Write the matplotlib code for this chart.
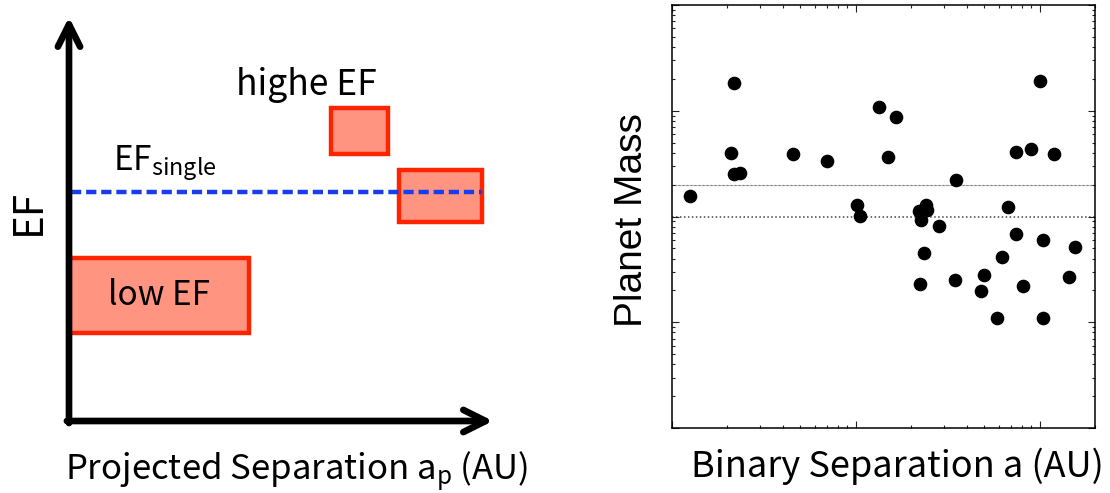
import matplotlib
matplotlib.use("Agg")
import matplotlib.pyplot as plt
from matplotlib.patches import Rectangle
from matplotlib.ticker import LogLocator, NullFormatter

plt.rcParams['font.family'] = ['Noto Sans CJK JP', 'DejaVu Sans']
plt.rcParams['mathtext.fontset'] = 'custom'
plt.rcParams['mathtext.rm'] = 'Noto Sans CJK JP'
plt.rcParams['mathtext.it'] = 'Noto Sans CJK JP'

# schematic (left): boxes in arbitrary units, separation 0-10, EF 0-10
box_names = ['low EF', 'highe EF', 'wide']
box_x0 = [0.0, 6.18, 7.78]
box_x1 = [4.25, 7.52, 9.74]
box_y0 = [2.18, 6.61, 4.93]
box_y1 = [4.03, 7.75, 6.21]
ef_single = 5.67

# binary separation (AU) vs planet mass
sep = [12.5, 21.7, 20.9, 21.7, 23.4, 45.5, 69.3, 100.9, 105, 134.5,
       166.4, 150.5, 220.8, 240.1, 244.1, 227.5, 283.6, 234.2, 223.6, 349.6,
       346.5, 498, 477.9, 589, 627, 676, 740.6, 740.6, 811.5, 893,
       1009, 1038, 1038, 1196, 1443, 1555]
mass = [1.57, 18.3, 3.96, 2.54, 2.56, 3.87, 3.33, 1.28, 1.02, 10.9,
        8.67, 3.68, 1.13, 1.28, 1.14, 0.927, 0.813, 0.449, 0.229, 2.23,
        0.249, 0.278, 0.199, 0.109, 0.417, 1.24, 0.683, 4.07, 0.219, 4.35,
        19.2, 0.604, 0.109, 3.90, 0.268, 0.515]
mass_lines = [2.0, 1.0]

W, H = 1110, 493
fig = plt.figure(figsize=(W / 100, H / 100), dpi=100)

# ---- left: schematic
ax1 = fig.add_axes([69 / W, (H - 421) / H, 424 / W, 404 / H])
ax1.set_xlim(0, 10)
ax1.set_ylim(0, 10)
ax1.axis('off')

for x0, x1, y0, y1 in zip(box_x0, box_x1, box_y0, box_y1):
    ax1.add_patch(Rectangle((x0, y0), x1 - x0, y1 - y0, facecolor='#ff9480',
                            edgecolor='#ff2400', linewidth=3.2, zorder=2))

ax1.plot([0.05, box_x1[2]], [ef_single, ef_single], color='#1a3cf0', lw=3.2,
         dashes=(2.3, 1.1), zorder=3)

arrow = dict(arrowstyle='->', lw=4.8, color='black', shrinkA=0, shrinkB=0,
             mutation_scale=40, capstyle='round', joinstyle='round')
ax1.annotate('', xy=(0, 10), xytext=(0, -0.05), arrowprops=arrow)
ax1.annotate('', xy=(10, 0), xytext=(-0.05, 0), arrowprops=arrow)

ax1.text((box_x0[0] + box_x1[0]) / 2, (box_y0[0] + box_y1[0]) / 2, 'low EF',
         fontsize=24, ha='center', va='center')
ax1.text(5.6, 8.07, 'highe EF', fontsize=25.5, ha='center', va='baseline')
ax1.text(1.04, 6.2, r'EF$_{\mathrm{single}}$', fontsize=24, ha='left',
         va='baseline')

fig.text(28 / W, (H - 212) / H, 'EF', fontsize=29, rotation=90,
         ha='center', va='center')
fig.text(297 / W, (H - 480) / H, r'Projected Separation a$_{\mathrm{p}}$ (AU)',
         fontsize=25, ha='center', va='baseline')

# ---- right: scatter
ax2 = fig.add_axes([672 / W, (H - 428) / H, 423 / W, 423 / H])
ax2.set_xscale('log')
ax2.set_yscale('log')
ax2.set_xlim(10, 2000)
ax2.set_ylim(0.01, 100)
for m, ls, lw in zip(mass_lines, [(0, (0.6, 0.6)), (0, (1, 1.6))], [0.8, 1.1]):
    ax2.axhline(m, color='#444444', lw=lw, linestyle=ls, zorder=1)
ax2.plot(sep, mass, 'o', color='black', markersize=8.8, zorder=3)

for axis in (ax2.xaxis, ax2.yaxis):
    axis.set_major_locator(LogLocator(base=10))
    axis.set_minor_locator(LogLocator(base=10, subs=range(2, 10)))
    axis.set_major_formatter(NullFormatter())
    axis.set_minor_formatter(NullFormatter())
ax2.tick_params(which='both', direction='in', top=True, right=True,
                width=0.8, color='#222222')
ax2.tick_params(which='major', length=5)
ax2.tick_params(which='minor', length=2.5)
for s in ax2.spines.values():
    s.set_linewidth(1.1)

fig.text(632 / W, (H - 220) / H, 'Planet Mass', fontsize=28, rotation=90,
         ha='center', va='center', family=['Liberation Sans', 'DejaVu Sans'])
fig.text(897 / W, (H - 477) / H, 'Binary Separation a (AU)', fontsize=26,
         ha='center', va='baseline')

fig.savefig('out.png', dpi=100)
